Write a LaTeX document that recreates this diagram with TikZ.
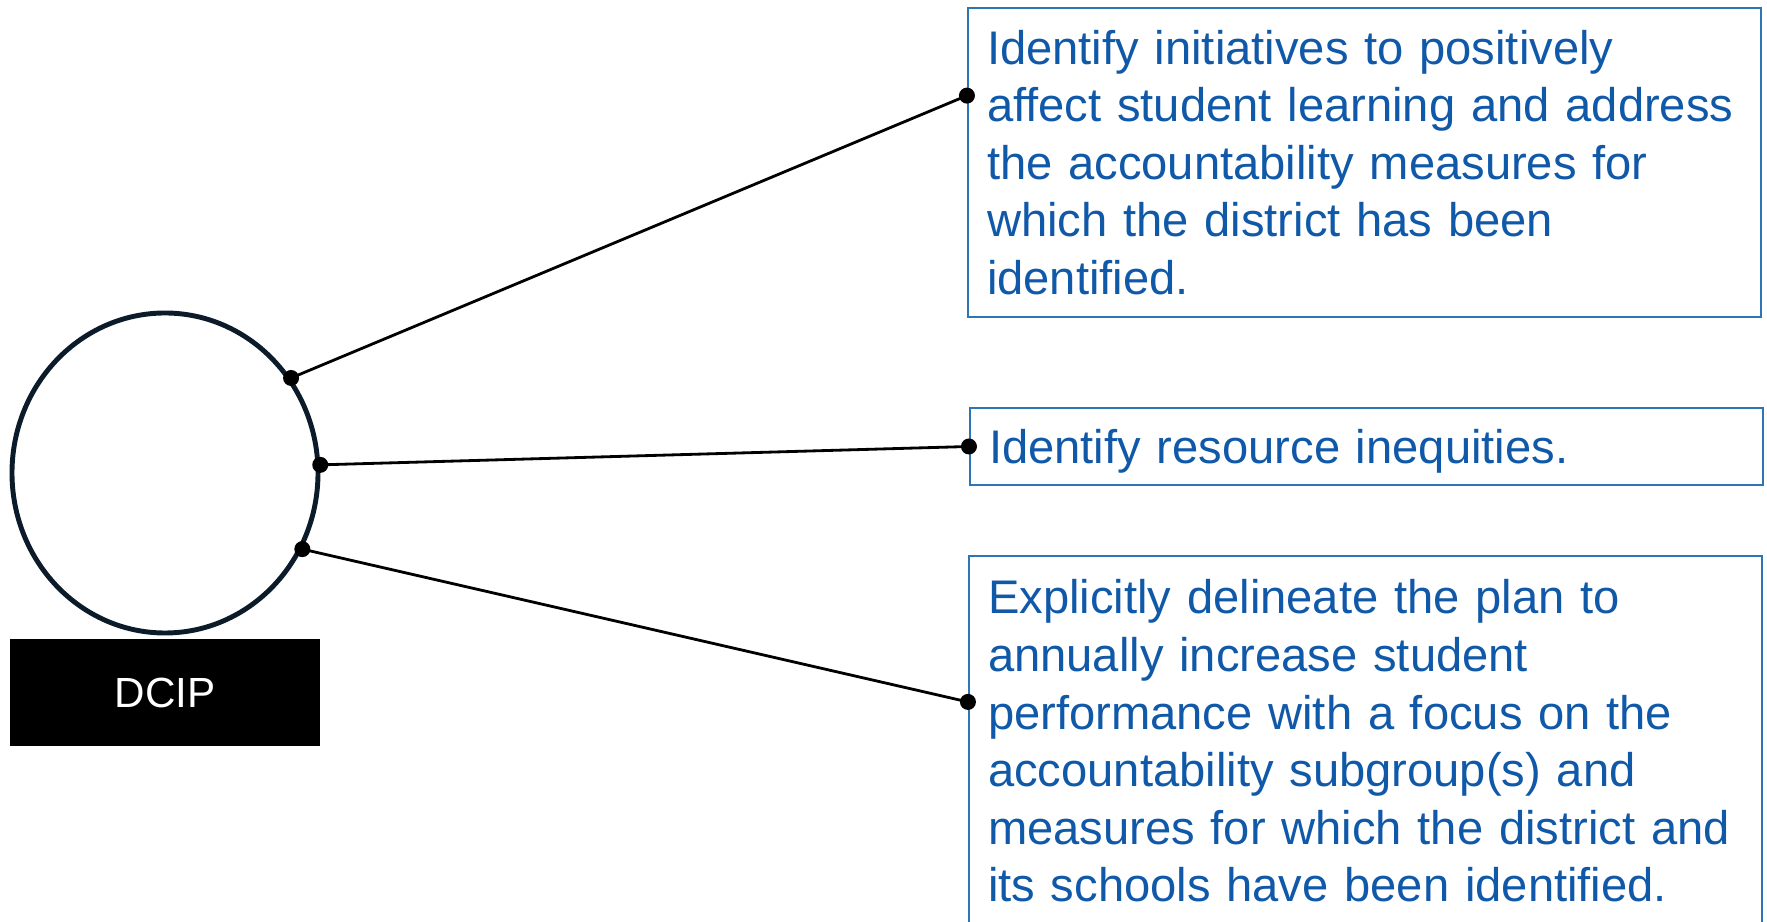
\documentclass[tikz,border=0pt]{standalone}
\usepackage{fontspec}
\setmainfont{Liberation Sans}
\usepackage{xcolor}
\usepackage{tikz}
\usetikzlibrary{shapes,calc}
\definecolor{goalblue}{RGB}{16,88,168}
\definecolor{edgeblue}{RGB}{46,117,182}
\definecolor{rimnavy}{RGB}{12,27,42}

\begin{document}
\begin{tikzpicture}[goal/.style={draw=edgeblue, line width=0.6pt, rectangle, text width=7.55cm, inner xsep=0.19cm, inner ysep=0pt, align=left, text=goalblue, font=\fontsize{13.42}{16.4}\selectfont},
                    hub/.style={draw=rimnavy, ellipse, line width=1.4pt, minimum width=3.06cm, minimum height=3.2cm, inner sep=0pt},
                    tag/.style={fill=black, text=white, minimum width=3.1cm, minimum height=1.07cm, font=\fontsize{12}{14}\selectfont}]
                        \clip (0,0) rectangle (17.67,9.21);
                        \node[hub] (hub) at (1.65, 4.48) {};
                        \node[tag] (lbl) at (1.65, 2.285) {DCIP};
                        \node[goal, minimum height=3.09cm] (g1) at (13.645, 7.585) {Identify initiatives to positively\\affect student learning and address\\the accountability measures for\\which the district has been\\identified.};
                        \node[goal, minimum height=0.77cm, text depth=0pt] (g2) at (13.665, 4.745) {Identify resource inequities.};
                        \node[goal, minimum height=3.7cm] (g3) at (13.655, 1.80) {Explicitly delineate the plan to\\annually increase student\\performance with a focus on the\\accountability subgroup(s) and\\measures for which the district and\\its schools have been identified.};
                        \coordinate (p1) at ($(g1.north west)!0.285!(g1.south west)$);
                        \coordinate (p3) at ($(g3.north west)!0.395!(g3.south west)$);
                        \draw [line width=0.8pt] (hub.37) -- (p1);
                        \draw [line width=0.8pt] (hub.3) -- (g2.west);
                        \draw [line width=0.8pt] (hub.-29) -- (p3);
                        \foreach \p in {hub.37, hub.3, hub.-29, p1, g2.west, p3}
                            \fill (\p) circle (0.08);
                        \end{tikzpicture}
\end{document}
